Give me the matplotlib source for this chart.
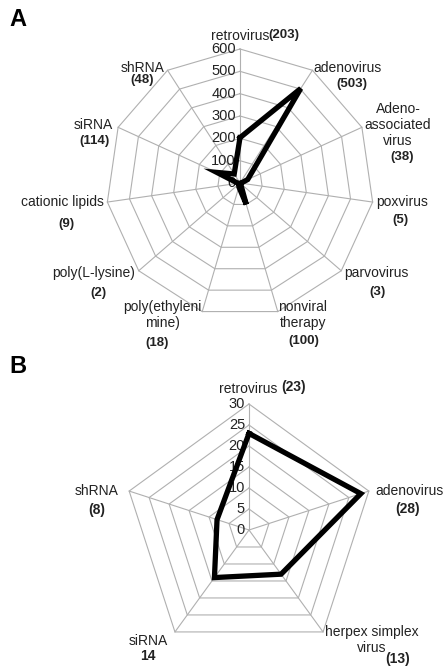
import numpy as np
import matplotlib
matplotlib.use('Agg')
import matplotlib.pyplot as plt
from matplotlib.transforms import offset_copy

plt.rcParams['font.family'] = ['Liberation Sans', 'DejaVu Sans']

# panel A data (clockwise from top)
cats_a = ['retrovirus', 'adenovirus', 'Adeno-\nassociated\nvirus', 'poxvirus', 'parvovirus',
          'nonviral\ntherapy', 'poly(ethyleni\nmine)', 'poly(L-lysine)', 'cationic lipids',
          'siRNA', 'shRNA']
nums_a = ['(203)', '(503)', '(38)', '(5)', '(3)', '(100)', '(18)', '(2)', '(9)', '(114)', '(48)']
vals_a = [203, 503, 38, 5, 3, 100, 18, 2, 9, 114, 48]
ticks_a = [0, 100, 200, 300, 400, 500, 600]

# panel B data
cats_b = ['retrovirus', 'adenovirus', 'herpex simplex\nvirus', 'siRNA', 'shRNA']
nums_b = ['(23)', '(28)', '(13)', '14', '(8)']
vals_b = [23, 28, 13, 14, 8]
ticks_b = [0, 5, 10, 15, 20, 25, 30]

W, H = 443, 666
fig = plt.figure(figsize=(W / 100, H / 100), dpi=100)
grid_c = '#b0b0b0'


def px(x, y):
    return x / W, 1 - y / H


def radar(cx, cy, rad, vals, ticks):
    rect = [(cx - rad) / W, (H - cy - rad) / H, 2 * rad / W, 2 * rad / H]
    ax = fig.add_axes(rect, projection='polar')
    ax.set_theta_zero_location('N')
    ax.set_theta_direction(-1)
    n = len(vals)
    th = np.linspace(0, 2 * np.pi, n, endpoint=False)
    thc = np.append(th, th[0])
    for t in ticks[1:]:
        ax.plot(thc, [t] * (n + 1), color=grid_c, lw=0.8, zorder=1, clip_on=False)
    for a in th:
        ax.plot([a, a], [0, ticks[-1]], color=grid_c, lw=0.8, zorder=1, clip_on=False)
    ax.plot(thc, list(vals) + [vals[0]], color='black', lw=3.8,
            solid_joinstyle='miter', zorder=3, clip_on=False)
    ax.set_ylim(0, ticks[-1])
    ax.axis('off')
    tr = offset_copy(ax.transData, fig=fig, x=-4, y=0, units='dots')
    for t in ticks:
        ax.text(0, t, str(t), transform=tr, ha='right', va='center',
                fontsize=10.5, color='#222222', zorder=2)
    return ax


def label(name, num, p1, p2, numsize):
    # name lines drawn one by one, centred on p1 as a block
    lines = name.split('\n')
    y0 = p1[1] - 8 * (len(lines) - 1)
    for i, ln in enumerate(lines):
        fig.text(*px(p1[0], y0 + 16 * i), ln, ha='center', va='center',
                 fontsize=10, color='#222222')
    fig.text(*px(*p2), num, ha='center', va='center', fontsize=numsize,
             fontweight='bold', color='#222222')


radar(240, 183, 134, vals_a, ticks_a)
radar(249, 530, 126, vals_b, ticks_b)

# category labels (pixel positions of name centre / number centre)
pos_a = [((240, 36), (284, 35)), ((348, 68), (352, 84)), ((398, 125), (402, 157)),
         ((402, 202), (400, 220)), ((376, 273), (377, 292)), ((303, 315), (304, 341)),
         ((162, 315), (157, 343)), ((94, 273), (98, 293)), ((62, 202), (66, 224)),
         ((93, 125), (94, 141)), ((143, 68), (142, 80))]
for name, num, (p1, p2) in zip(cats_a, nums_a, pos_a):
    label(name, num, p1, p2, 9.5)

pos_b = [((248, 389), (294, 387)), ((409, 491), (408, 509)), ((372, 640), (398, 659)),
         ((148, 641), (148, 656)), ((97, 491), (97, 510))]
for name, num, (p1, p2) in zip(cats_b, nums_b, pos_b):
    label(name, num, p1, p2, 10)

fig.text(*px(18, 20), 'A', ha='center', va='center', fontsize=17, fontweight='bold')
fig.text(*px(18, 366), 'B', ha='center', va='center', fontsize=17, fontweight='bold')

fig.savefig('out.png', dpi=100)
